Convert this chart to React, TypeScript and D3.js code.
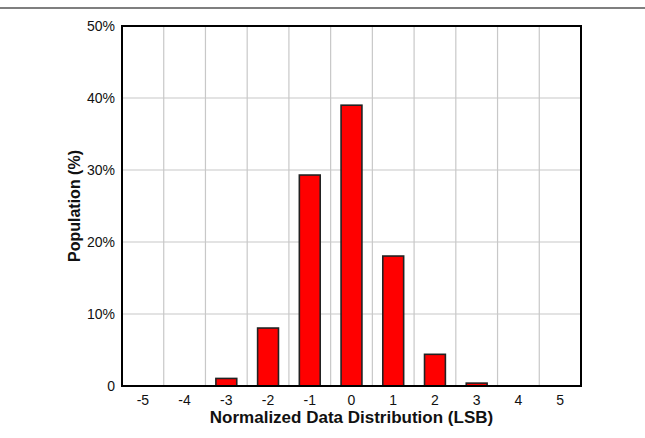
import * as d3 from "d3";
import { useEffect } from "react";

const categories = [-5, -4, -3, -2, -1, 0, 1, 2, 3, 4, 5];
const population = [0, 0, 1.05, 8.05, 29.3, 39.0, 18.05, 4.4, 0.4, 0, 0];
const yTicks = [0, 10, 20, 30, 40, 50];

export default function App() {
  useEffect(() => {
    document.body.style.margin = "0";
  }, []);

  const width = 645;
  const height = 438;
  const margin = { top: 26, right: 64, bottom: 52, left: 122 };
  const innerW = width - margin.left - margin.right;
  const innerH = height - margin.top - margin.bottom;

  // Create scales
  const xScale = d3
    .scaleBand<number>()
    .domain(categories)
    .range([0, innerW])
    .paddingInner(0.5)
    .paddingOuter(0.25);
  const bandStep = xScale.step();
  const yScale = d3.scaleLinear().domain([0, 50]).range([innerH, 0]);

  const font = "'Liberation Sans', Arial, sans-serif";

  return (
    <svg width={width} height={height} style={{ display: "block" }}>
      <rect width={width} height={height} fill="#fff" />
      <line x1={0} x2={width} y1={8} y2={8} stroke="#000" strokeWidth={1.2} />
      <g transform={`translate(${margin.left},${margin.top})`}>
        {/* vertical grid */}
        {categories.slice(1).map((c, i) => (
          <line
            key={`vg-${c}`}
            x1={(i + 1) * bandStep}
            x2={(i + 1) * bandStep}
            y1={0}
            y2={innerH}
            stroke="#c8c8c8"
            strokeWidth={1.2}
          />
        ))}
        {/* horizontal grid */}
        {yTicks.slice(1, -1).map((t) => (
          <line
            key={`hg-${t}`}
            x1={0}
            x2={innerW}
            y1={yScale(t)}
            y2={yScale(t)}
            stroke="#c8c8c8"
            strokeWidth={1.2}
          />
        ))}
        {/* bars */}
        {categories.map((c, i) =>
          population[i] > 0 ? (
            <rect
              key={`bar-${c}`}
              x={xScale(c)!}
              y={yScale(population[i])}
              width={xScale.bandwidth()}
              height={innerH - yScale(population[i])}
              fill="#ff0000"
              stroke="#222"
              strokeWidth={1.6}
            />
          ) : null
        )}
        {/* frame */}
        <rect x={0} y={0} width={innerW} height={innerH} fill="none" stroke="#000" strokeWidth={2} />
        {/* y tick labels */}
        {yTicks.map((t) => (
          <text
            key={`yt-${t}`}
            x={-7}
            y={yScale(t)}
            dy="0.35em"
            textAnchor="end"
            fontFamily={font}
            fontSize={14}
            fill="#111"
          >
            {t === 0 ? "0" : `${t}%`}
          </text>
        ))}
        {/* x tick labels */}
        {categories.map((c) => (
          <text
            key={`xt-${c}`}
            x={xScale(c)! + xScale.bandwidth() / 2}
            y={innerH + 19}
            textAnchor="middle"
            fontFamily={font}
            fontSize={14}
            fill="#111"
          >
            {c}
          </text>
        ))}
        <text
          x={innerW / 2}
          y={innerH + 37}
          textAnchor="middle"
          fontFamily={font}
          fontSize={17}
          fontWeight="bold"
          fill="#111"
        >
          Normalized Data Distribution (LSB)
        </text>
        <text
          transform={`translate(${-42},${innerH / 2}) rotate(-90)`}
          textAnchor="middle"
          fontFamily={font}
          fontSize={16}
          fontWeight="bold"
          fill="#111"
        >
          Population (%)
        </text>
      </g>
    </svg>
  );
}
